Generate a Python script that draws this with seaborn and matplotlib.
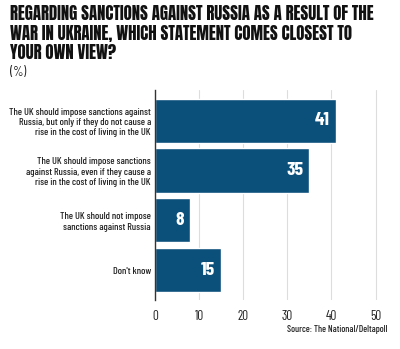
import matplotlib
matplotlib.use("Agg")
import matplotlib.pyplot as plt
import seaborn as sns
import pandas as pd
from matplotlib import font_manager as fm
import matplotlib.transforms as mtransforms

sns.set_theme(style="white")

installed = {f.name for f in fm.fontManager.ttflist}


def pick(*cands):
    for c in cands:
        if c in installed:
            return c
    return "DejaVu Sans"


head_font = pick("Anton", "Oswald", "Fjalla One", "Barlow Condensed")
body_font = pick("Barlow Condensed", "Roboto Condensed", "Archivo Narrow")
plt.rcParams["font.family"] = [body_font, "DejaVu Sans"]

statements = [
    "The UK should impose sanctions against\nRussia, but only if they do not cause a\nrise in the cost of living in the UK",
    "The UK should impose sanctions\nagainst Russia, even if they cause a\nrise in the cost of living in the UK",
    "The UK should not impose\nsanctions against Russia",
    "Don't know",
]
shares = [41, 35, 8, 15]
x_ticks = [0, 10, 20, 30, 40, 50]

title = ("REGARDING SANCTIONS AGAINST RUSSIA AS A RESULT OF THE\n"
         "WAR IN UKRAINE, WHICH STATEMENT COMES CLOSEST TO\n"
         "YOUR OWN VIEW?")

df = pd.DataFrame({"statement": statements, "share": shares})

fig = plt.figure(figsize=(4.0, 3.49), dpi=100)
ax = fig.add_axes([0.3875, 0.1404, 0.5625, 0.602])

bar_color = "#0b4f7b"
sns.barplot(data=df, x="share", y="statement", orient="h", color=bar_color,
            saturation=1, width=0.89, ax=ax, zorder=3)

ax.set_xlim(0, 51)
ax.set_ylim(3.6, -0.62)
ax.set_xticks(x_ticks)
ax.set_xticklabels([str(t) for t in x_ticks], fontsize=9.5, color="#222222")
ax.set_xlabel("")
ax.set_ylabel("")
ax.tick_params(axis="both", length=0, pad=7)
ax.tick_params(axis="y", pad=3)
for lab in ax.get_yticklabels():
    lab.set_fontsize(7.3)
    lab.set_fontweight("medium")
    lab.set_color("#222222")
    lab.set_multialignment("right")
    lab.set_linespacing(1.2)

for t in x_ticks[1:]:
    ax.axvline(t, color="#dddddd", lw=0.8, zorder=1)

for s in ["top", "right", "bottom"]:
    ax.spines[s].set_visible(False)
ax.spines["left"].set_color("#333333")
ax.spines["left"].set_linewidth(1.0)
ax.spines["left"].set_zorder(4)

offset = mtransforms.offset_copy(ax.transData, fig=fig, x=-6, y=0, units="dots")
for i, v in enumerate(shares):
    ax.text(v, i, str(v), transform=offset, ha="right", va="center",
            color="white", fontsize=14, fontweight="bold", zorder=5)

fig.text(0.025, 0.985, title, ha="left", va="top", fontsize=12.1,
         color="#111111", linespacing=1.16,
         family=[head_font, "DejaVu Sans"])
fig.text(0.025, 0.812, "(%)", ha="left", va="top", fontsize=9.5, color="#222222")
fig.text(0.968, 0.055, "Source: The National/Deltapoll", ha="right", va="center",
         fontsize=6.8, fontweight="medium", color="#222222")

fig.savefig("out.png", dpi=100)
